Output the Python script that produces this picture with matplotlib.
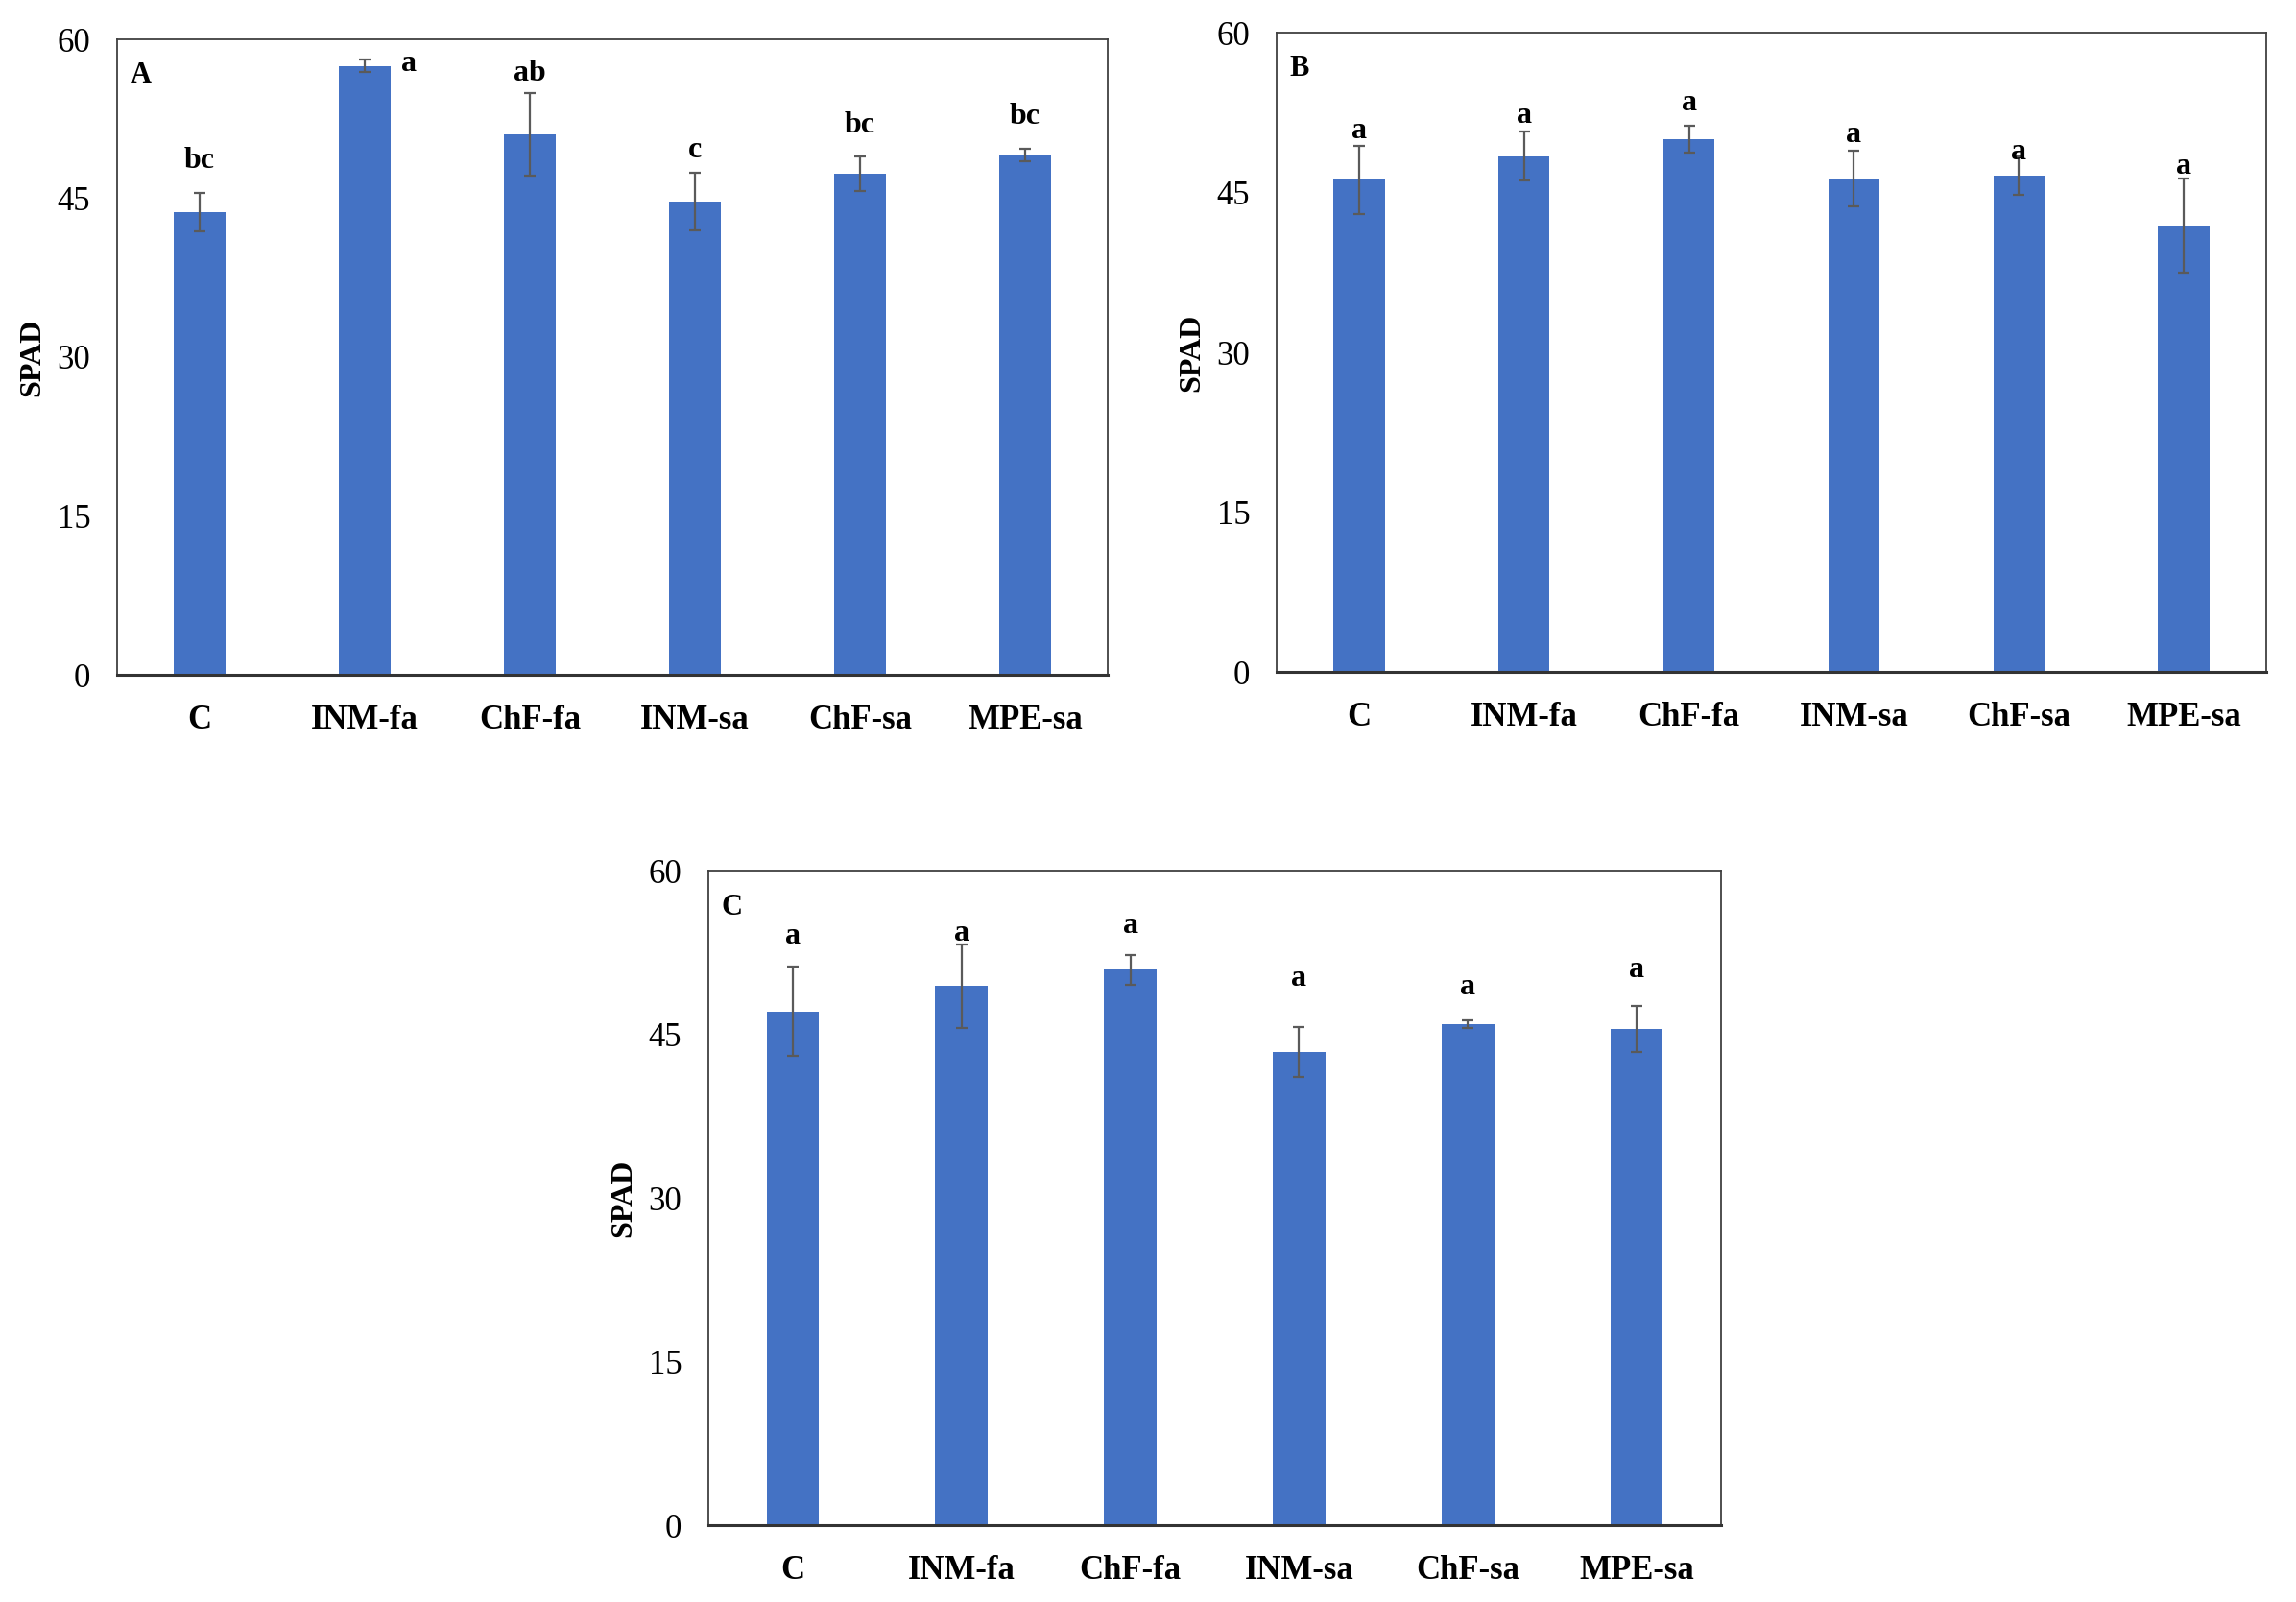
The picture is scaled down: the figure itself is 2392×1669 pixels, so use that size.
"""SPAD values by treatment, three panels (A, B, C)."""
import matplotlib
matplotlib.use('Agg')
import matplotlib.pyplot as plt
import numpy as np

matplotlib.rcParams.update({
    'font.family': 'Liberation Serif',
    'font.size': 24,
})

CATEGORIES = ['C', 'INM-fa', 'ChF-fa', 'INM-sa', 'ChF-sa', 'MPE-sa']

# Panel A
A_MEAN = [43.7, 57.5, 51.0, 44.7, 47.3, 49.1]
A_ERR = [1.8, 0.6, 3.9, 2.7, 1.6, 0.6]
A_LETTERS = ['bc', 'a', 'ab', 'c', 'bc', 'bc']
A_LETTER_Y = [48.5, 57.7, 56.8, 49.5, 51.9, 52.7]

# Panel B
B_MEAN = [46.2, 48.4, 50.0, 46.3, 46.6, 41.9]
B_ERR = [3.2, 2.3, 1.3, 2.6, 1.8, 4.4]
B_LETTERS = ['a', 'a', 'a', 'a', 'a', 'a']
B_LETTER_Y = [50.8, 52.2, 53.4, 50.4, 48.8, 47.4]

# Panel C
C_MEAN = [47.1, 49.4, 50.9, 43.4, 45.9, 45.5]
C_ERR = [4.1, 3.8, 1.4, 2.3, 0.35, 2.1]
C_LETTERS = ['a', 'a', 'a', 'a', 'a', 'a']
C_LETTER_Y = [54.0, 54.2, 54.9, 50.1, 49.3, 50.9]

BAR_COLOR = '#4472C4'
ERR_COLOR = '#5a5a5a'
W, H = 2392, 1669


def panel(rect, mean, err, letters, letter_y, tag, a_offset=None):
    ax = fig.add_axes(rect)
    x = np.arange(len(CATEGORIES))
    ax.bar(x, mean, 0.31, color=BAR_COLOR, zorder=2)
    ax.errorbar(x, mean, yerr=err, fmt='none', ecolor=ERR_COLOR,
                elinewidth=1.6, capsize=4.5, capthick=1.6, zorder=3)
    for i, (lab, ly) in enumerate(zip(letters, letter_y)):
        dx = a_offset[i] if a_offset else 0
        ax.text(x[i] + dx, ly, lab, ha='center', va='center',
                fontsize=23, fontweight='bold')
    ax.text(0.013, 0.965, tag, transform=ax.transAxes, ha='left', va='top',
            fontsize=22, fontweight='bold')
    ax.set_xlim(-0.5, 5.5)
    ax.set_ylim(0, 60)
    ax.set_yticks([0, 15, 30, 45, 60])
    ax.set_xticks(x)
    ax.set_xticklabels(CATEGORIES, fontweight='bold', fontsize=25)
    ax.tick_params(axis='both', length=0)
    ax.tick_params(axis='x', pad=22)
    ax.tick_params(axis='y', pad=20, labelsize=25)
    ax.set_ylabel('SPAD', fontweight='bold', fontsize=23, labelpad=8)
    for s in ['top', 'right', 'left']:
        ax.spines[s].set_color('#404040')
        ax.spines[s].set_linewidth(1.3)
    ax.spines['bottom'].set_color('#333333')
    ax.spines['bottom'].set_linewidth(2.2)
    return ax


def rect(l, t, r, b):
    return [l / W, 1 - b / H, (r - l) / W, (b - t) / H]


fig = plt.figure(figsize=(W / 100, H / 100), dpi=100)

panel(rect(122, 41, 1154, 703), A_MEAN, A_ERR, A_LETTERS, A_LETTER_Y, 'A',
      a_offset=[0, 0.27, 0, 0, 0, 0])
panel(rect(1330, 34, 2361, 700), B_MEAN, B_ERR, B_LETTERS, B_LETTER_Y, 'B')
panel(rect(738, 907, 1793, 1589), C_MEAN, C_ERR, C_LETTERS, C_LETTER_Y, 'C')

fig.savefig('out.png', dpi=100)
print('Saved out.png')
